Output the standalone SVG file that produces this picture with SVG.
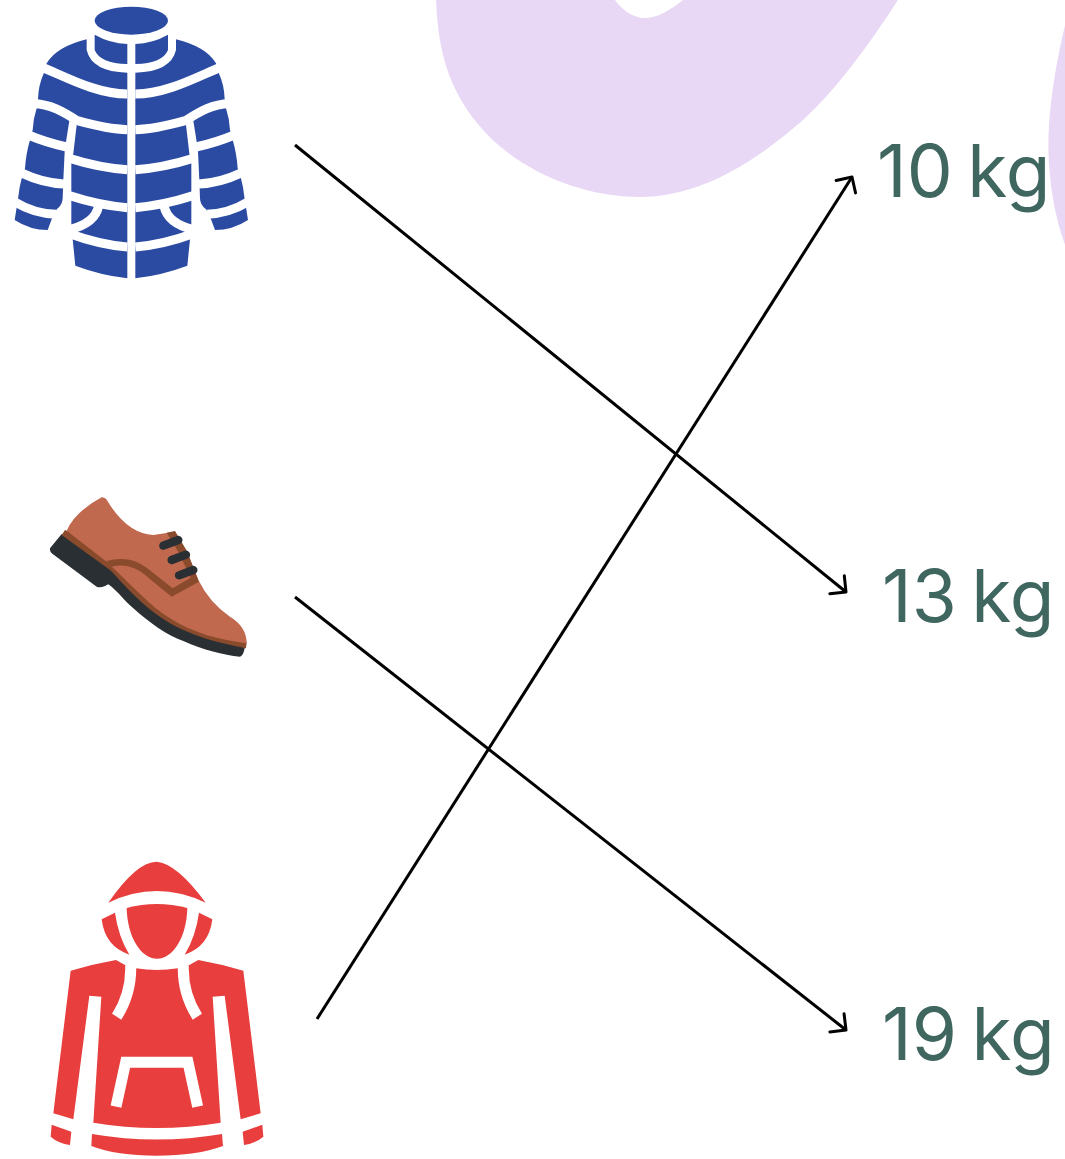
<svg xmlns="http://www.w3.org/2000/svg" xmlns:xlink="http://www.w3.org/1999/xlink" width="1065" height="1159" viewBox="0 0 1065 1159">
<style>
.lbl{font-family:"Inter","Liberation Sans",sans-serif;font-size:73px;font-weight:400;fill:#3f665f;word-spacing:-6px}
.conn{fill:none;stroke:#000;stroke-width:3;marker-end:url(#arrow)}
.wj{fill:none;stroke:#fff;stroke-width:27}
.wh{fill:none;stroke:#fff;stroke-width:33}
</style>
<defs>
<marker id="arrow" markerUnits="userSpaceOnUse" markerWidth="30" markerHeight="30" refX="15" refY="15" orient="auto" overflow="visible"><path d="M3.5 3.5L15 15L3.5 26.5" fill="none" stroke="#000" stroke-width="3" stroke-linecap="round" stroke-linejoin="round"/></marker>
<g id="jacketHalf">
<path fill="#2b4ba3" d="M260 118Q170 140 140 190L132 218Q115 255 114 298L110 325Q100 355 98 390L90 420Q78 460 75 505L66 532Q58 560 55 590L50 622L44 660Q90 690 143 690L155 658L170 628Q188 615 188 595L190 540L194 455L198 425L208 362L230 375L220 460L214 490L214 675L218 718L226 797Q300 825 382 835L382 218Q275 215 260 150Z"/>
<path fill="#2b4ba3" d="M284 104Q330 130 382 132L382 192Q300 190 284 150Z"/>
<path class="wj" d="M125 201C200 232 290 282 382 282"/>
<path class="wj" d="M100 311C150 311 190 335 232 362C290 378 340 388 382 389"/>
<path class="wj" d="M85 405Q140 428 200 441"/>
<path class="wj" d="M62 518Q130 550 192 552"/>
<path class="wj" d="M45 606Q100 640 168 643"/>
<path class="wj" d="M205 474Q300 504 382 509"/>
<path class="wj" d="M205 586Q300 617 382 623"/>
<path class="wj" d="M205 700Q300 735 382 741"/>
<path class="wj" d="M296 618Q285 670 210 688"/>
</g>
</defs>
<g id="background">
<path fill="#e8d8f5" d="M436 0C438 50 448 87 477 123C515 170 580 197 640 197C700 197 755 162 803 120C838 88 870 43 898 0L683 0C670 10 658 18 645 18C633 18 622 10 615 0Z"/>
<path fill="#e8d8f5" d="M1065 25Q1045 110 1049 165Q1052 210 1065 245Z"/>
</g>
<g id="jacket" transform="scale(.33333)">
<ellipse cx="394" cy="62" rx="110" ry="42" fill="#2b4ba3"/>
<use href="#jacketHalf"/>
<use href="#jacketHalf" transform="translate(788,0) scale(-1,1)"/>
</g>
<g id="shoe" transform="translate(30,480) scale(.33333)">
<path fill="#292f33" d="M95 162L60 205Q58 215 68 222L200 320Q210 325 225 318L235 313C265 335 285 365 310 385C360 430 410 465 460 483C520 510 580 525 630 530Q640 528 645 500L420 400L240 240Z"/>
<path fill="#8a4b2d" d="M105 150L95 165L240 270C280 310 330 375 420 430C490 470 570 490 648 505L650 485L400 360L200 190Z"/>
<path fill="#c1694f" d="M215 52Q225 52 232 62Q290 160 370 165L435 155L470 215L505 300Q540 370 600 410Q650 440 650 490C570 480 490 460 420 415C360 378 300 310 230 245L110 152Q135 95 215 52Z"/>
<path fill="#8a4b2d" d="M410 158L435 153L472 215L507 305L425 350C400 330 375 310 352 290C320 262 285 250 245 260L228 243C285 228 325 240 365 275L428 325L482 293L445 215Z"/>
<g fill="none" stroke="#292f33" stroke-width="25" stroke-linecap="round"><path d="M400 197L445 180"/><path d="M425 240L468 224"/><path d="M447 286L490 270"/></g>
</g>
<g id="hoodie" transform="translate(30,850) scale(.33333)" fill="#e83e3d">
<path d="M235 158Q320 35 380 35Q440 40 527 158Q380 88 235 158Z"/>
<path d="M215 208L255 188Q265 260 298 314Q225 290 215 208ZM547 208L507 188Q497 260 464 314Q537 290 547 208Z"/>
<path d="M290 174Q380 150 472 174C470 260 430 326 381 326C332 326 292 260 290 174Z"/>
<path d="M122 362Q190 342 258 330L285 345L318 355Q380 365 444 355L478 345L505 330Q572 342 640 362L692 790L632 808L584 437L548 440L572 818Q380 850 190 818L214 440L178 437L130 808L70 790Z"/>
<path class="wh" d="M302 345Q305 430 260 500"/>
<path class="wh" d="M460 345Q457 430 502 500"/>
<path class="wh" d="M258 770L287 637L474 637L503 770"/>
<path d="M186 852Q380 885 576 852L579 888Q500 917 380 917Q260 917 184 888Z"/>
<path d="M65 824L124 845L120 885Q85 880 62 860ZM697 824L638 845L642 885Q677 880 700 860Z"/>
</g>
<g id="connectors">
<path class="conn" d="M295 145L846 592"/>
<path class="conn" d="M295 597L846 1030"/>
<path class="conn" d="M317 1019L852 177"/>
</g>
<g id="label-10"><text class="lbl" x="877" y="197">10 kg</text></g>
<g id="label-13"><text class="lbl" x="882" y="622">13 kg</text></g>
<g id="label-19"><text class="lbl" x="882" y="1060">19 kg</text></g>
</svg>
